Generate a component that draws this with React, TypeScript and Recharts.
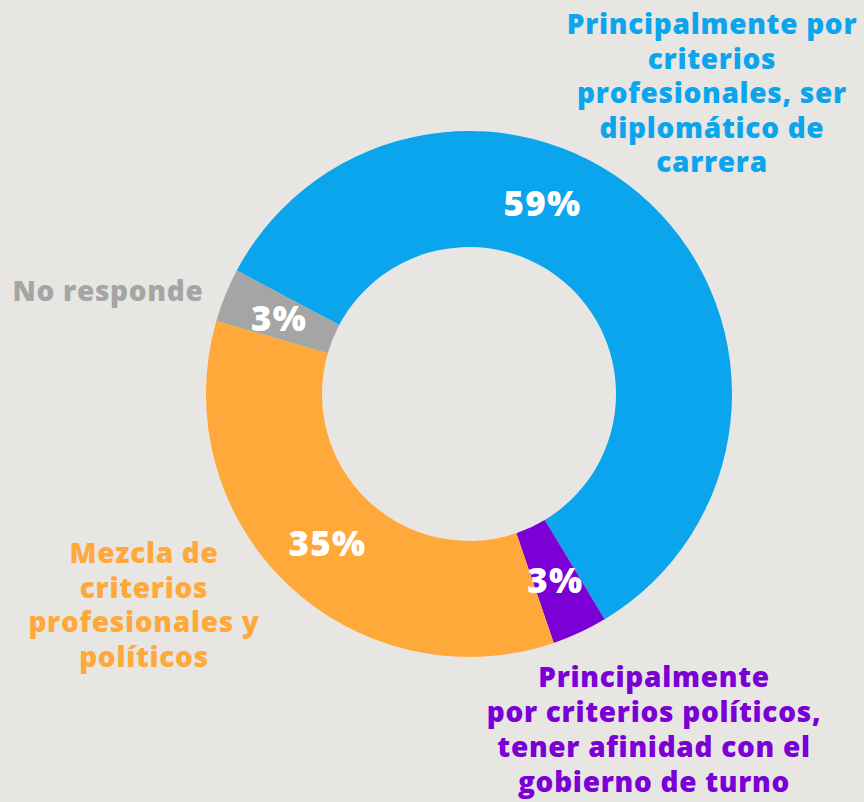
import { PieChart, Pie, Cell } from "recharts";

const categories = [
  "Principalmente por criterios profesionales, ser diplomático de carrera",
  "Principalmente por criterios políticos, tener afinidad con el gobierno de turno",
  "Mezcla de criterios profesionales y políticos",
  "No responde",
];
const values = [58.6, 3.4, 34.7, 3.3];
const labelLines = [
  ["Principalmente por", "criterios", "profesionales, ser", "diplomático de", "carrera"],
  ["Principalmente", "por criterios políticos,", "tener afinidad con el", "gobierno de turno"],
  ["Mezcla de", "criterios", "profesionales y", "políticos"],
  ["No responde"],
];
const colors = ["#0aa5ec", "#7a00d6", "#ffa93a", "#a5a5a5"];

const data = categories.map((name, i) => ({ name, value: values[i] }));

// outer label anchors, relative to the pie centre (x centre, first baseline)
const outerPos = [
  { dx: 243, dy: -360, lh: 34.5 },
  { dx: 185, dy: 293, lh: 35 },
  { dx: -325, dy: 169, lh: 34.7 },
  { dx: -361, dy: -93, lh: 34 },
];
// the 59% label sits away from the slice middle
const angleShift = [22.5, 0, 0, 0];

const RADIAN = Math.PI / 180;
const FONT = "'Open Sans', 'DejaVu Sans', sans-serif";

const renderLabel = (props: any) => {
  const { cx, cy, midAngle, innerRadius, outerRadius, index, value } = props;
  const a = midAngle + angleShift[index];
  const r = (innerRadius + outerRadius) / 2;
  const x = cx + r * Math.cos(-a * RADIAN);
  const y = cy + r * Math.sin(-a * RADIAN);
  const p = outerPos[index];
  return (
    <g>
      <text
        x={x}
        y={y}
        fill="#fff"
        textAnchor="middle"
        dominantBaseline="central"
        fontFamily={FONT}
        fontWeight={800}
        fontSize={35}
        letterSpacing={1.2}
      >
        {Math.round(value)}%
      </text>
      <text
        x={cx + p.dx}
        y={cy + p.dy}
        fill={colors[index]}
        textAnchor="middle"
        fontFamily={FONT}
        fontWeight={800}
        fontSize={28}
        letterSpacing={0.7}
      >
        {labelLines[index].map((line, j) => (
          <tspan key={j} x={cx + p.dx} y={cy + p.dy + j * p.lh}>
            {line}
          </tspan>
        ))}
      </text>
    </g>
  );
};

export default function App() {
  return (
    <div
      style={{
        position: "absolute",
        left: 0,
        top: 0,
        width: 864,
        height: 802,
        background: "#e8e6e3",
      }}
    >
      <PieChart width={864} height={802} margin={{ top: 0, right: 0, bottom: 0, left: 0 }}>
        <Pie
          data={data}
          dataKey="value"
          nameKey="name"
          cx={469}
          cy={394}
          innerRadius={147}
          outerRadius={263}
          startAngle={152}
          endAngle={-208}
          stroke="none"
          labelLine={false}
          label={renderLabel}
          isAnimationActive={false}
        >
          {data.map((d, i) => (
            <Cell key={d.name} fill={colors[i]} />
          ))}
        </Pie>
      </PieChart>
    </div>
  );
}
